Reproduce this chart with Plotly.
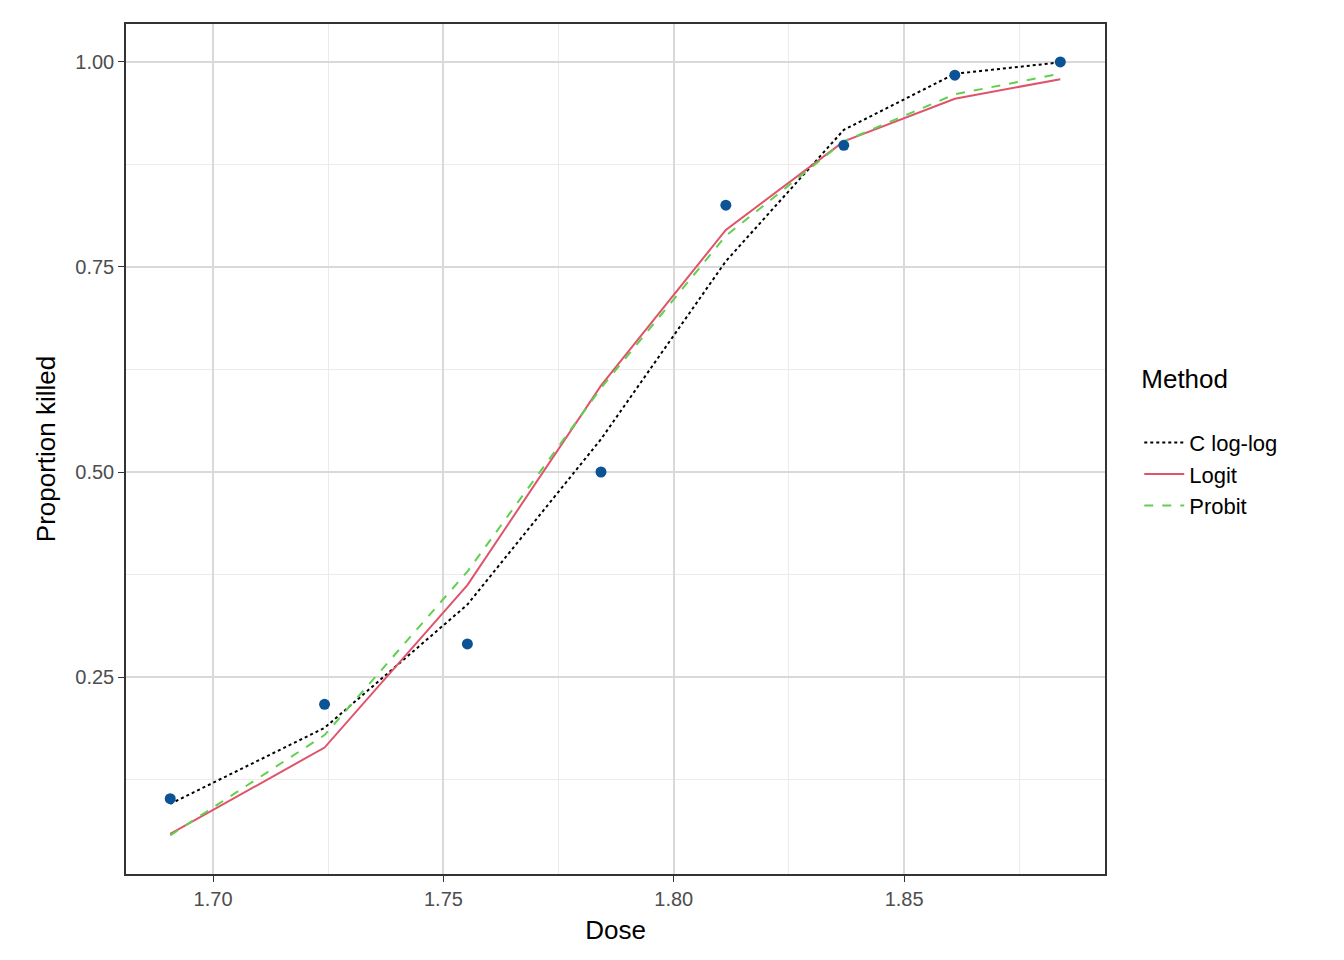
import plotly.graph_objects as go

dose = [1.6907, 1.7242, 1.7552, 1.7842, 1.8113, 1.8369, 1.8610, 1.8839]
observed = [0.1017, 0.2167, 0.2903, 0.5000, 0.8254, 0.8983, 0.9839, 1.0000]
cloglog = [0.0953, 0.1880, 0.3383, 0.5400, 0.7570, 0.9172, 0.9856, 0.9995]
logit = [0.0586, 0.1640, 0.3621, 0.6053, 0.7952, 0.9032, 0.9552, 0.9790]
probit = [0.0570, 0.1792, 0.3786, 0.6024, 0.7880, 0.9031, 0.9606, 0.9857]

fig = go.Figure()
fig.add_trace(go.Scatter(x=dose, y=cloglog, mode="lines", name="C log-log",
                         line=dict(color="black", dash="dot", width=2)))
fig.add_trace(go.Scatter(x=dose, y=logit, mode="lines", name="Logit",
                         line=dict(color="#DF536B", width=2)))
fig.add_trace(go.Scatter(x=dose, y=probit, mode="lines", name="Probit",
                         line=dict(color="#61D04F", dash="dash", width=2)))
fig.add_trace(go.Scatter(x=dose, y=observed, mode="markers", showlegend=False,
                         marker=dict(color="#0B5394", size=11)))

ax = dict(showline=True, linecolor="#333333", linewidth=1.5, mirror=True,
          gridcolor="#D9D9D9", gridwidth=2, zeroline=False, ticks="outside",
          ticklen=6, tickcolor="#333333", automargin=False,
          tickfont=dict(size=20, color="#4D4D4D"))
fig.update_xaxes(ax, range=[1.6811, 1.8936], tickvals=[1.70, 1.75, 1.80, 1.85],
                 ticktext=["1.70", "1.75", "1.80", "1.85"],
                 minor=dict(showgrid=True, gridcolor="#EBEBEB", gridwidth=1,
                            tickvals=[1.675, 1.725, 1.775, 1.825, 1.875], ticks=""),
                 title=dict(text="Dose", font=dict(size=26, color="black"), standoff=12))
fig.update_yaxes(ax, range=[0.0098, 1.0463], tickvals=[0.25, 0.5, 0.75, 1.0],
                 ticktext=["0.25", "0.50", "0.75", "1.00"],
                 minor=dict(showgrid=True, gridcolor="#EBEBEB", gridwidth=1,
                            tickvals=[0.125, 0.375, 0.625, 0.875], ticks=""),
                 title=dict(text="Proportion killed", font=dict(size=26, color="black"), standoff=12))
fig.update_layout(width=1344, height=960, plot_bgcolor="white", paper_bgcolor="white",
                  font=dict(family="Arial, Liberation Sans", size=20, color="black"),
                  margin=dict(l=118, r=247, t=16, b=94),
                  legend=dict(title=dict(text="Method<br> ", font=dict(size=26)),
                              font=dict(size=22), x=1.035, y=0.51, yanchor="middle",
                              tracegroupgap=12, itemwidth=40))
fig.write_html("out.html")
